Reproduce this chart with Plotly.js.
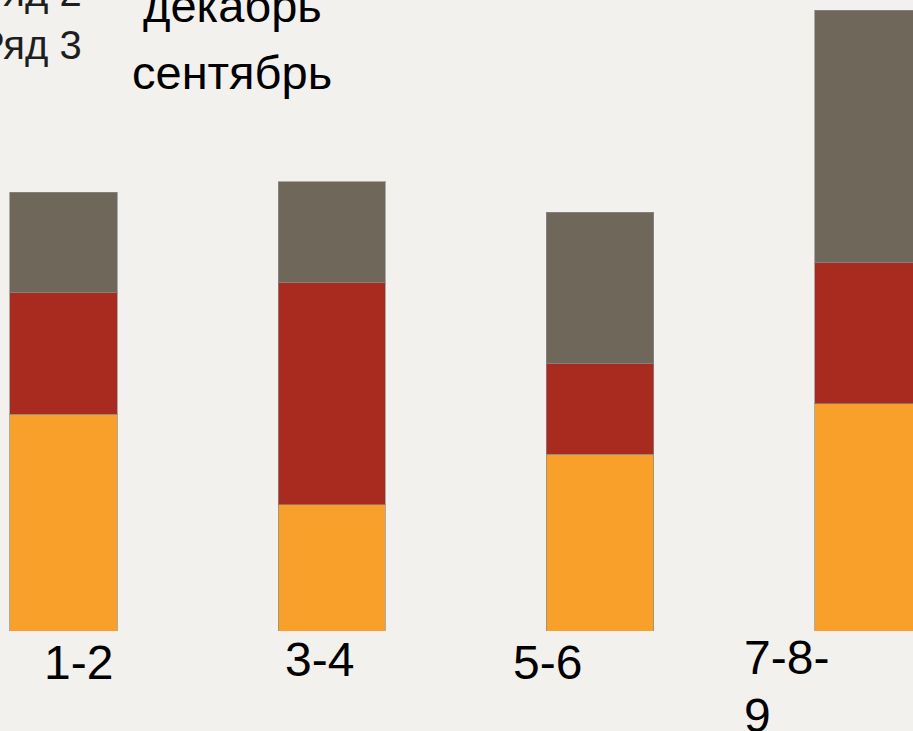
<!DOCTYPE html>
<html>
<head>
<meta charset="utf-8">
<script src="https://cdn.plot.ly/plotly-3.0.1.min.js"></script>
<style>
html,body{margin:0;padding:0;background:#f2f1ed;}
#chart{width:913px;height:731px;}
</style>
</head>
<body>
<div id="chart"></div>
<script>
// ---- data ----
var labelLines = [["1-2"], ["3-4"], ["5-6"], ["7-8-", "9"]];
var categories = labelLines.map(function (l) { return l.join(""); });
var seriesNames = ["Ряд 1", "Ряд 2", "Ряд 3"];
var series1 = [4.3, 2.5, 3.5, 4.5];
var series2 = [2.4, 4.4, 1.8, 2.8];
var series3 = [2, 2, 3, 5];
var legendTexts = ["декабрь", "сентябрь"];

// ---- styling / layout constants ----
var W = 913, H = 731, plotBottom = 631;
var colors = ["#F8A02A", "#A92A1F", "#6F685A"];
var font = "Liberation Sans, Arial, sans-serif";
function px2y(p) { return (plotBottom - p) / plotBottom; }
function px2x(p) { return p / W; }

var traces = [series1, series2, series3].map(function (vals, i) {
  return {
    type: "bar",
    x: categories,
    y: vals,
    name: seriesNames[i],
    marker: { color: colors[i], line: { color: "rgba(140,140,140,0.7)", width: 1 } },
    hoverinfo: "skip"
  };
});

var annotations = [];
// category labels (positioned like the slide's text boxes)
var labelShift = [-21, -49, -89, -126];
var labelBase = [678, 675, 678, 673];
var tickSize = 48, lineGap = 58;
labelLines.forEach(function (lines, i) {
  lines.forEach(function (txt, j) {
    var baseline = labelBase[i] + j * lineGap;
    annotations.push({
      x: i, xref: "x", xanchor: "left", xshift: labelShift[i],
      y: px2y(baseline - 0.905 * tickSize - 1), yref: "paper", yanchor: "top",
      text: txt, showarrow: false,
      font: { family: font, size: tickSize, color: "#000" }
    });
  });
});
// legend fragments (cut off at the left edge)
var legSize = 40;
[[seriesNames[1], 5], [seriesNames[2], 58]].forEach(function (e) {
  annotations.push({
    x: px2x(84), xref: "paper", xanchor: "right",
    y: px2y(e[1] - 0.905 * legSize - 1), yref: "paper", yanchor: "top",
    text: e[0], showarrow: false,
    font: { family: font, size: legSize, color: "#1e1e1e" }
  });
});
// month texts
var monSize = 47;
[[legendTexts[0], 21], [legendTexts[1], 88]].forEach(function (e) {
  annotations.push({
    x: px2x(232), xref: "paper", xanchor: "center",
    y: px2y(e[1] - 0.905 * monSize - 1), yref: "paper", yanchor: "top",
    text: e[0], showarrow: false,
    font: { family: font, size: monSize, color: "#000" }
  });
});

var spacing = 268.3, firstCenter = 63.4;
var layout = {
  width: W, height: H,
  margin: { l: 0, r: 0, t: 0, b: H - plotBottom, pad: 0 },
  paper_bgcolor: "#f2f1ed",
  plot_bgcolor: "#f2f1ed",
  barmode: "stack",
  bargap: 0.6,
  showlegend: false,
  xaxis: {
    type: "category",
    range: [-firstCenter / spacing, (W - firstCenter) / spacing],
    showticklabels: false, showgrid: false, zeroline: false, showline: false, ticks: ""
  },
  yaxis: {
    range: [0, plotBottom / 50.45],
    showticklabels: false, showgrid: false, zeroline: false, showline: false, ticks: ""
  },
  annotations: annotations
};

Plotly.newPlot("chart", traces, layout, { staticPlot: true, displayModeBar: false });
</script>
</body>
</html>
